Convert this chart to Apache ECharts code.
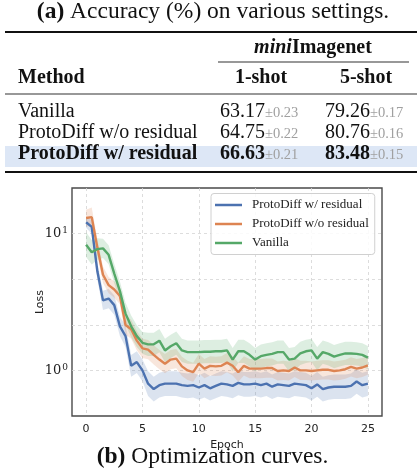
<!DOCTYPE html>
<html>
<head>
<meta charset="utf-8">
<script src="https://cdn.jsdelivr.net/npm/echarts@6/dist/echarts.min.js"></script>
<style>
  html, body { margin: 0; padding: 0; background: #fff; }
  #chart { width: 418px; height: 472px; }
</style>
</head>
<body>
<div id="chart"></div>
<script>
// ---------- table data ----------
const methods = ['Vanilla', 'ProtoDiff w/o residual', 'ProtoDiff w/ residual'];
const oneShot = ['63.17', '64.75', '66.63'];
const oneShotStd = ['0.23', '0.22', '0.21'];
const fiveShot = ['79.26', '80.76', '83.48'];
const fiveShotStd = ['0.17', '0.16', '0.15'];

// ---------- curve data ----------
const seriesNames = ['ProtoDiff w/ residual', 'ProtoDiff w/o residual', 'Vanilla'];
const epochs = [0,0.5,1,1.5,2,2.5,3,3.5,4,4.5,5,5.5,6,6.5,7,7.5,8,8.5,9,9.5,10,10.5,11,11.5,12,12.5,13,13.5,14,14.5,15,15.5,16,16.5,17,17.5,18,18.5,19,19.5,20,20.5,21,21.5,22,22.5,23,23.5,24,24.5,25];
const lossWithRes = [12.1,11.2,5.3,3.25,3.35,3.0,2.1,1.78,1.08,1.15,1.0,0.8,0.73,0.78,0.80,0.80,0.80,0.78,0.77,0.78,0.75,0.78,0.74,0.77,0.80,0.79,0.77,0.81,0.79,0.79,0.80,0.78,0.80,0.76,0.79,0.78,0.77,0.80,0.79,0.78,0.74,0.79,0.73,0.75,0.76,0.76,0.76,0.77,0.83,0.78,0.80];
const lossNoRes = [13.0,13.2,7.9,5.0,4.2,3.9,3.5,2.15,2.0,1.65,1.45,1.42,1.3,1.2,1.12,1.2,1.22,1.07,1.0,0.97,1.12,1.03,1.08,1.07,1.08,1.14,1.08,0.97,1.08,1.03,1.03,1.03,1.04,1.04,0.99,1.0,0.99,1.05,1.0,1.0,0.99,1.0,1.01,1.01,0.99,1.0,1.02,1.06,1.03,1.05,1.09];
const lossVanilla = [8.3,7.3,7.7,7.8,7.0,5.1,3.8,2.6,2.1,1.78,1.59,1.55,1.55,1.65,1.4,1.5,1.58,1.4,1.36,1.36,1.36,1.37,1.37,1.38,1.38,1.40,1.2,1.38,1.38,1.3,1.2,1.27,1.30,1.32,1.36,1.36,1.2,1.22,1.33,1.38,1.4,1.22,1.36,1.32,1.26,1.3,1.33,1.33,1.32,1.30,1.24];
// half-width of the shaded band, in decades (log10 units)
const spreadWithRes = [0.04,0.05,0.06,0.07,0.07,0.07,0.07,0.08,0.08,0.08,0.08,0.09,0.09,0.09,0.09,0.09,0.09,0.09,0.09,0.09,0.09,0.09,0.09,0.09,0.09,0.09,0.09,0.09,0.09,0.09,0.09,0.09,0.09,0.09,0.09,0.09,0.09,0.09,0.09,0.09,0.09,0.09,0.09,0.09,0.09,0.09,0.09,0.09,0.09,0.09,0.09];
const spreadNoRes = [0.06,0.07,0.06,0.06,0.06,0.06,0.06,0.07,0.07,0.07,0.07,0.07,0.07,0.07,0.07,0.07,0.07,0.07,0.07,0.07,0.07,0.07,0.07,0.07,0.07,0.07,0.07,0.07,0.07,0.07,0.07,0.07,0.07,0.07,0.07,0.07,0.07,0.07,0.07,0.07,0.07,0.07,0.07,0.07,0.07,0.07,0.07,0.07,0.07,0.07,0.07];
const spreadVanilla = [0.09,0.09,0.08,0.07,0.07,0.07,0.07,0.08,0.08,0.08,0.08,0.085,0.085,0.085,0.085,0.085,0.085,0.085,0.085,0.085,0.085,0.085,0.085,0.085,0.085,0.085,0.085,0.085,0.085,0.085,0.085,0.085,0.085,0.085,0.085,0.085,0.085,0.085,0.085,0.085,0.085,0.085,0.085,0.085,0.085,0.085,0.085,0.085,0.085,0.085,0.085];

const xTicks = [0, 5, 10, 15, 20, 25];
const yLabelValues = [1, 10];
const yTickBase = '10';
const yTickExponents = ['0', '1'];
const yGridValues = [Math.pow(10, 1/3), Math.pow(10, 2/3), 1, 10];

const colors = ['#4c72b0', '#dd8452', '#55a868'];
const lossSets = [lossWithRes, lossNoRes, lossVanilla];
const spreadSets = [spreadWithRes, spreadNoRes, spreadVanilla];

const chart = echarts.init(document.getElementById('chart'), null, {renderer: 'canvas'});

const series = [];
// shaded bands drawn as one polygon through the axis scales
lossSets.forEach((arr, k) => {
  const band = arr.map((v, i) => [epochs[i], v / Math.pow(10, spreadSets[k][i]), v * Math.pow(10, spreadSets[k][i])]);
  series.push({
    name: 'band-' + k, type: 'custom', data: band, silent: true, z: 1, clip: true,
    encode: {x: 0, y: [1, 2]},
    renderItem: function (params, api) {
      if (params.dataIndex !== 0) return null;
      const top = band.map(d => api.coord([d[0], d[2]]));
      const bot = band.slice().reverse().map(d => api.coord([d[0], d[1]]));
      return {
        type: 'polygon',
        shape: {points: top.concat(bot)},
        style: {fill: colors[k], opacity: 0.2}
      };
    }
  });
});
// main lines
lossSets.forEach((arr, k) => {
  series.push({
    name: seriesNames[k], type: 'line', data: arr.map((v, i) => [epochs[i], v]),
    showSymbol: false, symbol: 'none', z: 3,
    lineStyle: {color: colors[k], width: 2.4},
    itemStyle: {color: colors[k]}
  });
});

const serif = 'Liberation Serif';
const ruleColor = '#111';
const rowY = [111.5, 133, 154];

const graphics = [];
// title
graphics.push({type: 'text', x: 213, y: 12, style: {
  text: '{b|(a)}{r| Accuracy (%) on various settings.}',
  align: 'center', verticalAlign: 'middle',
  rich: {
    b: {fontFamily: serif, fontSize: 23.5, fontWeight: 'bold', fill: '#111'},
    r: {fontFamily: serif, fontSize: 23.5, fill: '#111'}
  }
}});
// rules
graphics.push({type: 'rect', shape: {x: 5, y: 31, width: 412, height: 2}, style: {fill: ruleColor}});
graphics.push({type: 'rect', shape: {x: 218, y: 61.5, width: 191, height: 1}, style: {fill: '#333'}});
graphics.push({type: 'rect', shape: {x: 5, y: 93.5, width: 412, height: 1}, style: {fill: '#333'}});
graphics.push({type: 'rect', shape: {x: 5, y: 146, width: 412, height: 21}, style: {fill: '#dde7f6'}});
graphics.push({type: 'rect', shape: {x: 5, y: 171, width: 412, height: 2}, style: {fill: ruleColor}});
// header
graphics.push({type: 'text', x: 313, y: 47.5, style: {
  text: '{i|mini}{b|Imagenet}', align: 'center', verticalAlign: 'middle',
  rich: {
    i: {fontFamily: serif, fontSize: 20, fontStyle: 'italic', fontWeight: 'bold', fill: '#111'},
    b: {fontFamily: serif, fontSize: 20, fontWeight: 'bold', fill: '#111'}
  }
}});
graphics.push({type: 'text', x: 18, y: 77.5, style: {text: 'Method', fontFamily: serif, fontSize: 20, fontWeight: 'bold', fill: '#111', align: 'left', verticalAlign: 'middle'}});
graphics.push({type: 'text', x: 261, y: 77.5, style: {text: '1-shot', fontFamily: serif, fontSize: 20, fontWeight: 'bold', fill: '#111', align: 'center', verticalAlign: 'middle'}});
graphics.push({type: 'text', x: 366, y: 77.5, style: {text: '5-shot', fontFamily: serif, fontSize: 20, fontWeight: 'bold', fill: '#111', align: 'center', verticalAlign: 'middle'}});
// rows
methods.forEach((m, r) => {
  const bold = r === 2 ? 'bold' : 'normal';
  graphics.push({type: 'text', x: 18, y: rowY[r], style: {text: m, fontFamily: serif, fontSize: 20, fontWeight: bold, fill: '#111', align: 'left', verticalAlign: 'middle'}});
  const rich = {
    v: {fontFamily: serif, fontSize: 20, fontWeight: bold, fill: '#111'},
    s: {fontFamily: serif, fontSize: 14.5, fill: '#a0a0a0', padding: [3, 0, 0, 0]}
  };
  graphics.push({type: 'text', x: 220, y: rowY[r], style: {text: '{v|' + oneShot[r] + '}{s|\u00B1' + oneShotStd[r] + '}', align: 'left', verticalAlign: 'middle', rich: rich}});
  graphics.push({type: 'text', x: 325, y: rowY[r], style: {text: '{v|' + fiveShot[r] + '}{s|\u00B1' + fiveShotStd[r] + '}', align: 'left', verticalAlign: 'middle', rich: rich}});
});
// caption
graphics.push({type: 'text', x: 212.5, y: 457, style: {
  text: '{b|(b)}{r| Optimization curves.}',
  align: 'center', verticalAlign: 'middle',
  rich: {
    b: {fontFamily: serif, fontSize: 23.5, fontWeight: 'bold', fill: '#111'},
    r: {fontFamily: serif, fontSize: 23.5, fill: '#111'}
  }
}});

const option = {
  animation: false,
  backgroundColor: '#fff',
  grid: {left: 72, top: 188, width: 310, height: 228, show: true, borderColor: '#4a4a4a', borderWidth: 1.4, backgroundColor: 'transparent', containLabel: false},
  legend: {
    data: seriesNames, orient: 'vertical', left: 211, top: 193.5,
    icon: 'rect', itemWidth: 27, itemHeight: 2.5, itemGap: 6,
    padding: [5, 6, 5, 4],
    backgroundColor: 'rgba(255,255,255,0.85)', borderColor: '#d0d0d0', borderWidth: 1, borderRadius: 3,
    textStyle: {fontFamily: serif, fontSize: 13, color: '#222', padding: [0, 0, 0, 5]},
    z: 10
  },
  xAxis: {
    type: 'value', min: -1.25, max: 26.25,
    axisLine: {show: false},
    axisTick: {show: false, customValues: xTicks},
    axisLabel: {customValues: xTicks, fontFamily: 'DejaVu Sans', fontSize: 11, color: '#222', margin: 8},
    splitLine: {show: true, lineStyle: {type: [3, 3], color: '#d4d4d4', width: 0.8}},
    name: 'Epoch', nameLocation: 'middle', nameGap: 24, nameMoveOverlap: false,
    nameTextStyle: {fontFamily: 'DejaVu Sans', fontSize: 11, color: '#222'}
  },
  yAxis: {
    type: 'log', logBase: 10, min: Math.pow(10, -1/3), max: Math.pow(10, 4/3),
    axisLine: {show: false},
    axisTick: {show: false, customValues: yGridValues},
    axisLabel: {customValues: yLabelValues, color: '#222', margin: 4,
      formatter: function (v) {
        const idx = yLabelValues.findIndex(t => Math.abs(t - v) < 1e-6);
        return idx < 0 ? '' : '{b|' + yTickBase + '}{s|' + yTickExponents[idx] + '}';
      },
      rich: {
        b: {fontFamily: 'DejaVu Serif', fontSize: 13, color: '#222'},
        s: {fontFamily: 'DejaVu Serif', fontSize: 9, color: '#222', verticalAlign: 'top', padding: [0, 0, 6, 1]}
      }
    },
    splitLine: {show: true, lineStyle: {type: [3, 3], color: '#d4d4d4', width: 0.8}},
    name: 'Loss', nameLocation: 'middle', nameGap: 26, nameRotate: 90, nameMoveOverlap: false,
    nameTextStyle: {fontFamily: 'DejaVu Sans', fontSize: 11, color: '#222'}
  },
  series: series,
  graphic: {elements: graphics}
};
chart.setOption(option);
</script>
</body>
</html>
